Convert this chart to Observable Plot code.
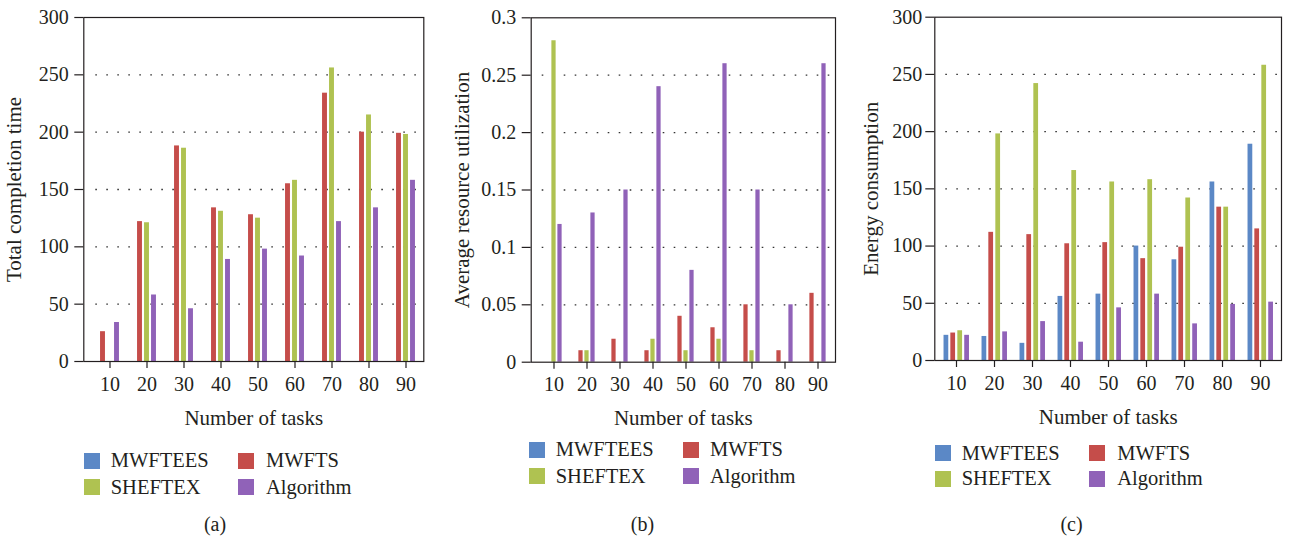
<!DOCTYPE html>
<html><head><meta charset="utf-8">
<script src="https://cdn.jsdelivr.net/npm/d3@7"></script>
<script src="https://cdn.jsdelivr.net/npm/@observablehq/plot@0.6"></script>
<style>
body{margin:0;background:#fff;}
#root{position:relative;width:1290px;height:541px;overflow:hidden;font-family:"Liberation Serif",serif;color:#231f20;}
.panel{position:absolute;top:0;}
.sw{position:absolute;width:16px;height:16px;}
.lt{position:absolute;font-size:20.5px;line-height:20px;white-space:nowrap;}
.cap{position:absolute;font-size:20px;line-height:20px;width:100px;text-align:center;}
</style></head><body><div id="root"></div>
<script>
// ---------- data ----------
const tasks = [10, 20, 30, 40, 50, 60, 70, 80, 90];
const seriesNames = ["MWFTEES", "MWFTS", "SHEFTEX", "Algorithm"];
const seriesColors = ["#5b88c6", "#c54d4a", "#afc251", "#9062b8"];

// (a) Total completion time
const timeMWFTS     = [26, 122, 188, 134, 128, 155, 234, 200, 199];
const timeSHEFTEX   = [0, 121, 186, 131, 125, 158, 256, 215, 198];
const timeAlgorithm = [34, 58, 46, 89, 98, 92, 122, 134, 158];

// (b) Average resource utilization
const utilMWFTS     = [0, 0.01, 0.02, 0.01, 0.04, 0.03, 0.05, 0.01, 0.06];
const utilSHEFTEX   = [0.28, 0.01, 0, 0.02, 0.01, 0.02, 0.01, 0, 0];
const utilAlgorithm = [0.12, 0.13, 0.15, 0.24, 0.08, 0.26, 0.15, 0.05, 0.26];

// (c) Energy consumption
const energyMWFTEES   = [22, 21, 15, 56, 58, 100, 88, 156, 189];
const energyMWFTS     = [24, 112, 110, 102, 103, 89, 99, 134, 115];
const energySHEFTEX   = [26, 198, 242, 166, 156, 158, 142, 134, 258];
const energyAlgorithm = [22, 25, 34, 16, 46, 58, 32, 49, 51];

const yTicksCount = [0, 50, 100, 150, 200, 250, 300];
const yTicksUtil  = [0, 0.05, 0.1, 0.15, 0.2, 0.25, 0.3];
const yTickLabelsUtil = ["0", "0.05", "0.1", "0.15", "0.2", "0.25", "0.3"];
const xTitle = "Number of tasks";
const captions = ["(a)", "(b)", "(c)"];

// ---------- layout ----------
const ink = "#231f20";
const root = document.getElementById("root");
const rowsOf = vals => tasks.map((t, i) => ({task: String(t), value: vals[i]}));

const panels = [
  {left: 0, width: 430, ml: 83.3, mr: 6.7, mt: 17, mb: 69, xRange: [87, 428], bw: 5.8,
   series: [[1, timeMWFTS, -7], [2, timeSHEFTEX, 0], [3, timeAlgorithm, 7]],
   yDomain: [0, 300], yTicks: yTicksCount, yFmt: d => String(d), grid: [50, 100, 150, 200, 250],
   yTitle: "Total completion time", yTitleDx: -69.5, tickPad: 6, gridInset: 12,
   legend: {x1: 84, x2: 238.3, t1: 452.7, t2: 479, tx1: 110.7, tx2: 266}, cap: 215},
  {left: 430, width: 420, ml: 100.7, mr: 15, mt: 17.3, mb: 68.3, xRange: [104.1, 407.9], bw: 5,
   series: [[1, utilMWFTS, -6], [2, utilSHEFTEX, 0], [3, utilAlgorithm, 6]],
   yDomain: [0, 0.3], yTicks: yTicksUtil, yFmt: d => yTickLabelsUtil[yTicksUtil.indexOf(d)], grid: [0.05, 0.1, 0.15, 0.2, 0.25],
   yTitle: "Average resource utilization", yTitleDx: -68.7, tickPad: 6, gridInset: 11,
   legend: {x1: 529, x2: 682.7, t1: 441.7, t2: 468.3, tx1: 555.7, tx2: 710}, cap: 642.5},
  {left: 850, width: 440, ml: 84.3, mr: 9, mt: 16.7, mb: 70, xRange: [84, 431], bw: 5.3,
   series: [[0, energyMWFTEES, -10.1], [1, energyMWFTS, -3.3], [2, energySHEFTEX, 3.7], [3, energyAlgorithm, 10.6]],
   yDomain: [0, 300], yTicks: yTicksCount, yFmt: d => String(d), grid: [50, 100, 150, 200, 250],
   yTitle: "Energy consumption", yTitleDx: -63.8, tickPad: 3.5, gridInset: 11,
   legend: {x1: 935, x2: 1089, t1: 445, t2: 470.7, tx1: 961.7, tx2: 1117.3}, cap: 1071.5}
];

panels.forEach((p, pi) => {
  const band = (p.xRange[1] - p.xRange[0]) / tasks.length;
  const inset = (band - p.bw) / 2;
  const marks = [
    Plot.ruleY(p.grid, {stroke: "#333", strokeWidth: 1.3, strokeDasharray: "1.6,9.4", insetLeft: p.gridInset, insetRight: 3}),
    ...p.series.map(([si, vals, dx]) =>
      Plot.barY(rowsOf(vals), {x: "task", y: "value", fill: seriesColors[si], dx, insetLeft: inset, insetRight: inset})),
    Plot.frame({stroke: ink, strokeWidth: 1.2}),
    Plot.axisY({ticks: p.yTicks, tickFormat: p.yFmt, tickSize: 9, tickPadding: p.tickPad, label: null, stroke: ink, fill: ink, strokeWidth: 1.2}),
    Plot.axisX({tickSize: 7, tickPadding: 8, label: null, stroke: ink, fill: ink, strokeWidth: 1.2}),
    Plot.text([xTitle], {frameAnchor: "bottom", textAnchor: "middle", lineAnchor: "middle", dy: 56.5, fontSize: 21, fill: ink}),
    Plot.text([p.yTitle], {frameAnchor: "left", textAnchor: "middle", lineAnchor: "middle", rotate: -90, dx: p.yTitleDx, fontSize: 21, fill: ink})
  ];
  const svg = Plot.plot({
    width: p.width, height: 430,
    marginLeft: p.ml, marginRight: p.mr, marginTop: p.mt, marginBottom: p.mb,
    style: {fontFamily: "'Liberation Serif', serif", fontSize: "20px", color: ink, background: "transparent"},
    x: {type: "band", domain: tasks.map(String), range: p.xRange, padding: 0},
    y: {domain: p.yDomain},
    marks
  });
  const wrap = document.createElement("div");
  wrap.className = "panel";
  wrap.style.left = p.left + "px";
  wrap.appendChild(svg);
  root.appendChild(wrap);

  // legend
  const L = p.legend;
  const items = [[0, L.x1, L.t1, L.tx1], [1, L.x2, L.t1, L.tx2], [2, L.x1, L.t2, L.tx1], [3, L.x2, L.t2, L.tx2]];
  items.forEach(([si, sx, sy, tx]) => {
    const sw = document.createElement("div");
    sw.className = "sw";
    sw.style.left = sx + "px"; sw.style.top = sy + "px"; sw.style.background = seriesColors[si];
    root.appendChild(sw);
    const t = document.createElement("div");
    t.className = "lt";
    t.style.left = tx + "px"; t.style.top = (sy - 2.3) + "px";
    t.textContent = seriesNames[si];
    root.appendChild(t);
  });
  const c = document.createElement("div");
  c.className = "cap";
  c.style.left = (p.cap - 50) + "px"; c.style.top = "514px";
  c.textContent = captions[pi];
  root.appendChild(c);
});
</script></body></html>
